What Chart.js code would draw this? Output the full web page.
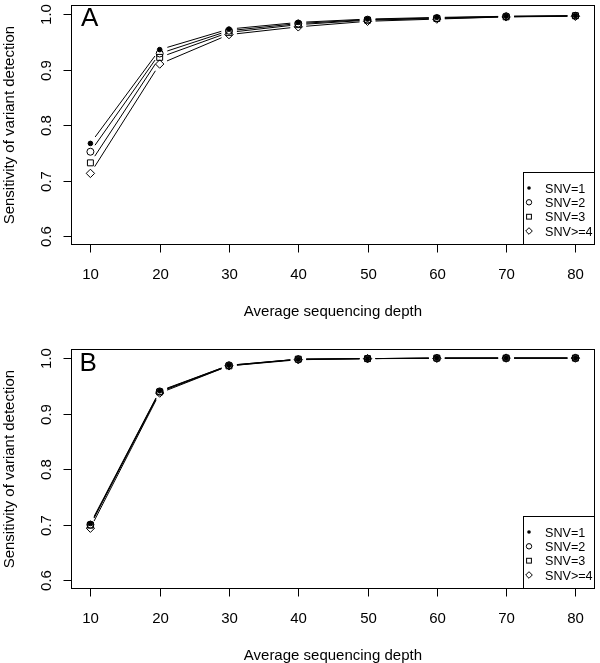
<!DOCTYPE html>
<html>
<head>
<meta charset="utf-8">
<script src="https://cdn.jsdelivr.net/npm/chart.js@4/dist/chart.umd.min.js"></script>
<style>
  html, body { margin: 0; padding: 0; background: #fff; }
  body { width: 600px; height: 663px; position: relative; overflow: hidden; }
  .panel { position: absolute; left: 0; width: 600px; height: 319px; }
  #wrapA { top: 0; }
  #wrapB { top: 344px; }
</style>
</head>
<body>
<div class="panel" id="wrapA"><canvas id="chartA" width="600" height="319"></canvas></div>
<div class="panel" id="wrapB"><canvas id="chartB" width="600" height="319"></canvas></div>
<script>
// ---- Data ----
const depths = [10, 20, 30, 40, 50, 60, 70, 80];
const seriesLabels = ["SNV=1", "SNV=2", "SNV=3", "SNV>=4"];
const xTickValues = [10, 20, 30, 40, 50, 60, 70, 80];
const yTickValues = [0.6, 0.7, 0.8, 0.9, 1.0];
const xTitle = "Average sequencing depth";
const yTitle = "Sensitivity of variant detection";

// Panel A
const panelA_snv1 = [0.767, 0.936, 0.973, 0.985, 0.991, 0.994, 0.996, 0.997];
const panelA_snv2 = [0.752, 0.929, 0.970, 0.983, 0.990, 0.993, 0.996, 0.997];
const panelA_snv3 = [0.732, 0.922, 0.967, 0.981, 0.989, 0.992, 0.995, 0.997];
const panelA_snv4 = [0.713, 0.910, 0.963, 0.977, 0.987, 0.991, 0.995, 0.996];

// Panel B
const panelB_snv1 = [0.702, 0.941, 0.987, 0.998, 0.999, 1.000, 1.000, 1.000];
const panelB_snv2 = [0.700, 0.940, 0.987, 0.998, 0.999, 1.000, 1.000, 1.000];
const panelB_snv3 = [0.699, 0.939, 0.986, 0.998, 0.999, 1.000, 1.000, 1.000];
const panelB_snv4 = [0.6935, 0.937, 0.986, 0.997, 0.999, 0.9995, 1.000, 1.000];

// ---- Styles ----
const FONT = '"Liberation Sans", Arial, Helvetica, sans-serif';
const markerStyles = [
  { pointStyle: 'circle', radius: 2.3, fill: '#000' },
  { pointStyle: 'circle', radius: 3.5, fill: 'rgba(0,0,0,0)' },
  { pointStyle: 'rect', radius: 4.2, fill: 'rgba(0,0,0,0)' },
  { pointStyle: 'rectRot', radius: 4.2, fill: 'rgba(0,0,0,0)' }
];
const legendMarkerRadius = [1.8, 2.7, 3.4, 3.3];

function makeDatasets(seriesList) {
  return seriesList.map((vals, i) => ({
    label: seriesLabels[i],
    data: depths.map((d, j) => ({ x: d, y: vals[j] })),
    showLine: false,
    pointStyle: markerStyles[i].pointStyle,
    pointRadius: markerStyles[i].radius,
    pointHoverRadius: markerStyles[i].radius,
    pointBackgroundColor: markerStyles[i].fill,
    pointBorderColor: '#000',
    pointBorderWidth: 1,
    borderColor: '#000'
  }));
}

// Plugin: draw R-style "type=b" lines (segments with gaps around points)
const gapLinesPlugin = {
  id: 'gapLines',
  beforeDatasetsDraw(chart) {
    const ctx = chart.ctx;
    const gap = 8;
    ctx.save();
    ctx.strokeStyle = '#000';
    ctx.lineWidth = 1;
    chart.data.datasets.forEach((ds, i) => {
      const pts = chart.getDatasetMeta(i).data;
      for (let k = 0; k < pts.length - 1; k++) {
        const a = pts[k], b = pts[k + 1];
        const dx = b.x - a.x, dy = b.y - a.y;
        const len = Math.hypot(dx, dy);
        if (len <= 2 * gap) continue;
        const ux = dx / len, uy = dy / len;
        ctx.beginPath();
        ctx.moveTo(a.x + ux * gap, a.y + uy * gap);
        ctx.lineTo(b.x - ux * gap, b.y - uy * gap);
        ctx.stroke();
      }
    });
    ctx.restore();
  }
};

// Plugin: R-style axes, box, titles, panel letter and legend
function makeFramePlugin(letter, letterBaseline) {
  return {
    id: 'frame' + letter,
    afterDraw(chart) {
      const ctx = chart.ctx;
      const ca = chart.chartArea;
      const xs = chart.scales.x, ys = chart.scales.y;
      ctx.save();
      ctx.strokeStyle = '#000';
      ctx.fillStyle = '#000';
      ctx.lineWidth = 1;
      // Box
      ctx.strokeRect(Math.round(ca.left) + 0.5, Math.round(ca.top) + 0.5,
        Math.round(ca.right) - Math.round(ca.left) - 1, Math.round(ca.bottom) - Math.round(ca.top) - 1);
      const bottom = Math.round(ca.bottom) - 0.5;
      const left = Math.round(ca.left) + 0.5;
      // X ticks + labels
      ctx.font = '15px ' + FONT;
      ctx.textAlign = 'center';
      ctx.textBaseline = 'alphabetic';
      xTickValues.forEach(v => {
        const px = Math.round(xs.getPixelForValue(v)) + 0.5;
        ctx.beginPath();
        ctx.moveTo(px, bottom);
        ctx.lineTo(px, bottom + 8);
        ctx.stroke();
        ctx.fillText(String(v), px, 279);
      });
      // Y ticks + rotated labels
      yTickValues.forEach(v => {
        const py = Math.round(ys.getPixelForValue(v)) + 0.5;
        ctx.beginPath();
        ctx.moveTo(left, py);
        ctx.lineTo(left - 8, py);
        ctx.stroke();
        ctx.save();
        ctx.translate(51, py);
        ctx.rotate(-Math.PI / 2);
        ctx.fillText(v.toFixed(1), 0, 0);
        ctx.restore();
      });
      // Axis titles
      ctx.fillText(xTitle, (ca.left + ca.right) / 2, 316);
      ctx.save();
      ctx.translate(14, (ca.top + ca.bottom) / 2);
      ctx.rotate(-Math.PI / 2);
      ctx.fillText(yTitle, 0, 0);
      ctx.restore();
      // Panel letter
      ctx.font = '26px ' + FONT;
      ctx.textAlign = 'left';
      ctx.fillText(letter, letter === 'B' ? 79.5 : 81, letterBaseline);
      // Legend
      const lx0 = 523.5, ly0 = 172.5;
      const lx1 = Math.round(ca.right) - 0.5, ly1 = Math.round(ca.bottom) - 0.5;
      ctx.fillStyle = '#fff';
      ctx.fillRect(lx0, ly0, lx1 - lx0, ly1 - ly0);
      ctx.strokeRect(lx0, ly0, lx1 - lx0, ly1 - ly0);
      ctx.fillStyle = '#000';
      ctx.font = '12.6px ' + FONT;
      ctx.textAlign = 'left';
      const rows = [188, 202.3, 216.7, 231];
      chart.data.datasets.forEach((ds, i) => {
        const cy = rows[i];
        const cx = 529;
        const r = legendMarkerRadius[i];
        ctx.beginPath();
        if (ds.pointStyle === 'circle') {
          ctx.arc(cx, cy, r, 0, Math.PI * 2);
          if (i === 0) ctx.fill(); else ctx.stroke();
        } else if (ds.pointStyle === 'rect') {
          const h = r * Math.SQRT1_2;
          ctx.strokeRect(cx - h, cy - h, 2 * h, 2 * h);
        } else {
          ctx.moveTo(cx - r, cy); ctx.lineTo(cx, cy - r); ctx.lineTo(cx + r, cy); ctx.lineTo(cx, cy + r); ctx.closePath();
          ctx.stroke();
        }
        ctx.fillText(ds.label, 545, cy + 4.5);
      });
      ctx.restore();
    }
  };
}

function makeChart(canvasId, seriesList, letter, letterBaseline) {
  return new Chart(document.getElementById(canvasId), {
    type: 'line',
    data: { datasets: makeDatasets(seriesList) },
    options: {
      responsive: false,
      animation: false,
      events: [],
      layout: { padding: { top: 2, left: 0, right: 0, bottom: 0 } },
      plugins: { legend: { display: false }, tooltip: { enabled: false } },
      scales: {
        x: {
          type: 'linear',
          min: 7.2, max: 82.8,
          grid: { display: false },
          border: { display: false },
          ticks: { display: false },
          afterBuildTicks: s => { s.ticks = xTickValues.map(v => ({ value: v })); },
          afterFit: s => { s.height = 74; }
        },
        y: {
          type: 'linear',
          min: 0.584, max: 1.016,
          grid: { display: false },
          border: { display: false },
          ticks: { display: false },
          afterBuildTicks: s => { s.ticks = yTickValues.map(v => ({ value: v })); },
          afterFit: s => { s.width = 71; }
        }
      }
    },
    plugins: [gapLinesPlugin, makeFramePlugin(letter, letterBaseline)]
  });
}

makeChart('chartA', [panelA_snv1, panelA_snv2, panelA_snv3, panelA_snv4], 'A', 26);
makeChart('chartB', [panelB_snv1, panelB_snv2, panelB_snv3, panelB_snv4], 'B', 27);
</script>
</body>
</html>
